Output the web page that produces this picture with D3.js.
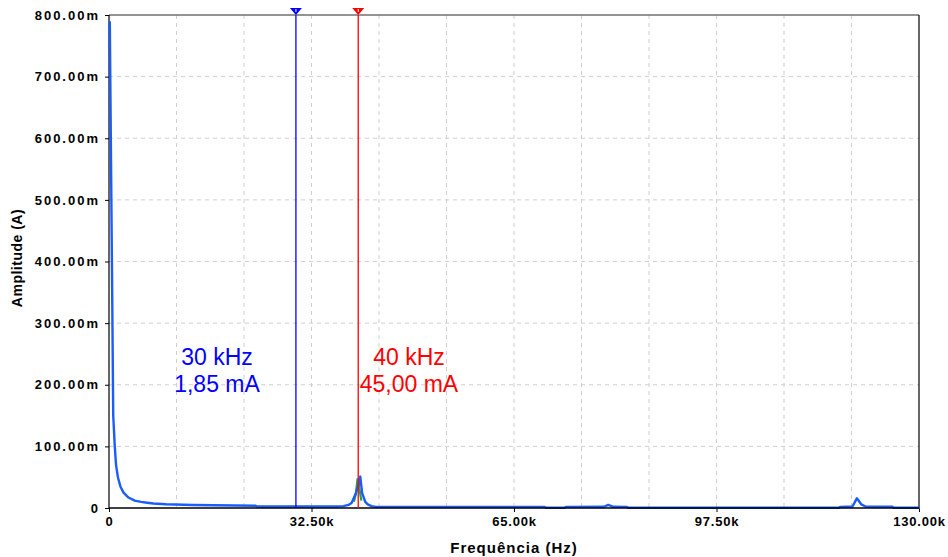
<!DOCTYPE html>
<html>
<head>
<meta charset="utf-8">
<script src="https://cdn.jsdelivr.net/npm/d3@7"></script>
<style>
  body { margin: 0; background: #fff; }
  text { font-family: "Liberation Sans", Arial, sans-serif; }
</style>
</head>
<body>
<script>
var w = 948,
    h = 557,
    pLeft = 109,
    pRight = 919,
    pTop = 15,
    pBottom = 508;

// spectrum, frequency in kHz, amplitude in mA
var freqK = [0, 0.2, 0.4, 0.55, 0.8, 1.0, 1.3, 1.7, 2.2, 3.0, 4.0, 5.0, 6.0, 7.0, 9.0, 13.3, 23.4, 23.6,
             36.5, 37.5, 38.3, 38.8, 39.5, 40.0, 40.2, 40.5, 41.0, 41.4, 42.0, 42.7,
             69.8, 70.0, 73.0, 73.2, 79.3, 80.0, 80.8, 83.0, 83.2,
             117.0, 117.2, 119.2, 119.9, 120.6, 121.3, 125.6, 125.8, 130];
var ampM = [790, 560, 330, 150, 100, 70, 50, 35, 25, 17, 12, 10, 8.5, 7.2, 6.0, 4.9, 3.7, 2.4,
            2.4, 3.0, 5.0, 8.0, 24, 40, 51, 24, 10, 6, 3, 1.8,
            1.8, 0.3, 0.3, 1.8, 2.0, 5.0, 2.0, 1.8, 0.3,
            0.3, 1.8, 2.5, 15.7, 6, 2.5, 2.0, 0.3, 0.3];

// second trace, only visible near the 40 kHz peak
var greenFreqK = [39.3, 39.6, 39.9, 40.2, 40.5];
var greenAmpM = [10, 22, 48, 30, 12];

var xTicks = [0, 32.5, 65, 97.5, 130];
var xGrid = d3.range(0, 13).map(function(i) { return i * 130 / 12; });
var yTicks = [0, 100, 200, 300, 400, 500, 600, 700, 800];

var cursorFreqK = [30, 40];
var cursorColors = ["#0000ff", "#ff0000"];
var cursorLine1 = ["30 kHz", "40 kHz"];
var cursorLine2 = ["1,85 mA", "45,00 mA"];
var cursorTextX = [217, 409];

var x = d3.scaleLinear().domain([0, 130]).range([pLeft, pRight]);
var y = d3.scaleLinear().domain([0, 800]).range([pBottom, pTop]);

var svg = d3.select("body").append("svg")
    .attr("width", w)
    .attr("height", h);

// grid
svg.append("g").selectAll("line")
    .data(xGrid.slice(1, -1))
    .enter().append("line")
    .attr("x1", function(d) { return x(d); })
    .attr("x2", function(d) { return x(d); })
    .attr("y1", pTop)
    .attr("y2", pBottom)
    .attr("stroke", "#cfcfcf")
    .attr("stroke-dasharray", "4,4");

svg.append("g").selectAll("line")
    .data(yTicks.slice(1, -1))
    .enter().append("line")
    .attr("x1", pLeft)
    .attr("x2", pRight)
    .attr("y1", function(d) { return y(d); })
    .attr("y2", function(d) { return y(d); })
    .attr("stroke", "#cfcfcf")
    .attr("stroke-dasharray", "4,4");

// frame
svg.append("line").attr("x1", pLeft).attr("x2", pRight).attr("y1", pTop).attr("y2", pTop)
    .attr("stroke", "#707070").attr("stroke-width", 1.5);
svg.append("line").attr("x1", pRight).attr("x2", pRight).attr("y1", pTop).attr("y2", pBottom)
    .attr("stroke", "#000").attr("stroke-width", 1.2);
svg.append("line").attr("x1", pLeft).attr("x2", pLeft).attr("y1", pTop).attr("y2", pBottom)
    .attr("stroke", "#000").attr("stroke-width", 1.2);

// axes
var xAxis = d3.axisBottom(x)
    .tickValues(xTicks)
    .tickSize(4)
    .tickFormat(function(d) { return d === 0 ? "0" : d.toFixed(2) + "k"; });

var yAxis = d3.axisLeft(y)
    .tickValues(yTicks)
    .tickSize(4)
    .tickFormat(function(d) { return d === 0 ? "0" : d.toFixed(2) + "m"; });

var gx = svg.append("g")
    .attr("transform", "translate(0," + pBottom + ")")
    .call(xAxis);
gx.select(".domain").remove();
gx.selectAll("text")
    .attr("y", 9)
    .attr("dy", "0.71em")
    .attr("font-size", 13)
    .attr("font-weight", "bold")
    .attr("letter-spacing", 0.8)
    .attr("fill", "#000");
gx.selectAll("line").attr("stroke", "#000");

var gy = svg.append("g")
    .attr("transform", "translate(" + pLeft + ",0)")
    .call(yAxis);
gy.select(".domain").remove();
gy.selectAll("text")
    .attr("x", -9)
    .attr("font-size", 13)
    .attr("font-weight", "bold")
    .attr("letter-spacing", 2)
    .attr("fill", "#000");
gy.selectAll("line").attr("stroke", "#000");

// traces
var greenPts = greenFreqK.map(function(f, i) { return [f, greenAmpM[i]]; });
var bluePts = freqK.map(function(f, i) { return [f, ampM[i]]; });
var line = d3.line()
    .x(function(d) { return x(d[0]); })
    .y(function(d) { return y(d[1]); });

svg.append("path")
    .datum(greenPts)
    .attr("d", line)
    .attr("fill", "none")
    .attr("stroke", "#1aa84a")
    .attr("stroke-width", 2.2);

svg.append("path")
    .datum(bluePts)
    .attr("d", line)
    .attr("transform", "translate(0.8,0)")
    .attr("fill", "none")
    .attr("stroke", "#1a5cff")
    .attr("stroke-width", 2.4)
    .attr("stroke-linejoin", "round");

// bottom axis line over the trace
svg.append("line").attr("x1", pLeft).attr("x2", pRight).attr("y1", pBottom).attr("y2", pBottom)
    .attr("stroke", "#000").attr("stroke-width", 1.5);

// cursors
cursorFreqK.forEach(function(f, i) {
  var cx = x(f);
  svg.append("line")
      .attr("x1", cx).attr("x2", cx)
      .attr("y1", pTop).attr("y2", pBottom)
      .attr("stroke", cursorColors[i])
      .attr("stroke-width", 1.3);
  svg.append("path")
      .attr("d", "M" + (cx - 6) + "," + (pTop - 7) + "L" + (cx + 6) + "," + (pTop - 7) + "L" + cx + "," + pTop + "Z")
      .attr("fill", cursorColors[i]);
  svg.append("line")
      .attr("x1", cx).attr("x2", cx)
      .attr("y1", pTop - 6).attr("y2", pTop - 3)
      .attr("stroke", "#fff")
      .attr("stroke-width", 1);
  svg.append("text")
      .attr("x", cursorTextX[i])
      .attr("y", 365)
      .attr("text-anchor", "middle")
      .attr("font-size", 23)
      .attr("fill", cursorColors[i])
      .text(cursorLine1[i]);
  svg.append("text")
      .attr("x", cursorTextX[i])
      .attr("y", 392)
      .attr("text-anchor", "middle")
      .attr("font-size", 23)
      .attr("fill", cursorColors[i])
      .text(cursorLine2[i]);
});

// axis titles
svg.append("text")
    .attr("x", 514)
    .attr("y", 553)
    .attr("text-anchor", "middle")
    .attr("font-size", 15)
    .attr("font-weight", "bold")
    .attr("letter-spacing", 1)
    .text("Frequência (Hz)");

svg.append("text")
    .attr("transform", "translate(22,258) rotate(-90)")
    .attr("text-anchor", "middle")
    .attr("font-size", 14)
    .attr("font-weight", "bold")
    .attr("letter-spacing", 0.5)
    .text("Amplitude (A)");
</script>
</body>
</html>
